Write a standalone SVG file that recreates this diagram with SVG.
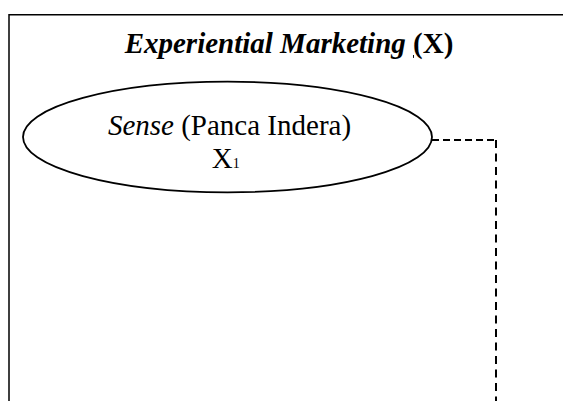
<svg xmlns="http://www.w3.org/2000/svg" width="563" height="401" viewBox="0 0 563 401">
  <style>
    .frame { fill: none; stroke: #000; stroke-width: 1.5; }
    .node { fill: #fff; stroke: #000; stroke-width: 1.8; }
    .link { fill: none; stroke: #000; stroke-width: 2; }
    .h { stroke-dasharray: 7 4; }
    .v { stroke-dasharray: 8 5.5; }
    .txt { font-family: "Liberation Serif", "Times New Roman", serif; font-size: 29px; fill: #000; }
    .bi { font-weight: bold; font-style: italic; }
    .b { font-weight: bold; }
    .i { font-style: italic; }
  </style>
  <rect width="563" height="401" fill="#fff"/>

  <!-- outer construct frame -->
  <g id="construct-x">
    <path class="frame" d="M9,405 V14.7 H570"/>
    <text class="txt" x="289" y="53" text-anchor="middle"><tspan class="bi">Experiential Marketing </tspan><tspan class="b" text-decoration="underline">(</tspan><tspan class="b">X)</tspan></text>
  </g>

  <!-- connectors -->
  <g id="connectors">
    <path class="link h" d="M432,140 H496"/>
    <path class="link v" d="M496,140 V401"/>
  </g>

  <!-- dimension X1 -->
  <g id="sense-x1">
    <ellipse class="node" cx="227.5" cy="137" rx="204.5" ry="55.3"/>
    <text class="txt" x="229.5" y="135" text-anchor="middle"><tspan class="i">Sense</tspan> (Panca Indera)</text>
    <text class="txt" x="211.7" y="168">X<tspan font-size="14">1</tspan></text>
  </g>
</svg>
